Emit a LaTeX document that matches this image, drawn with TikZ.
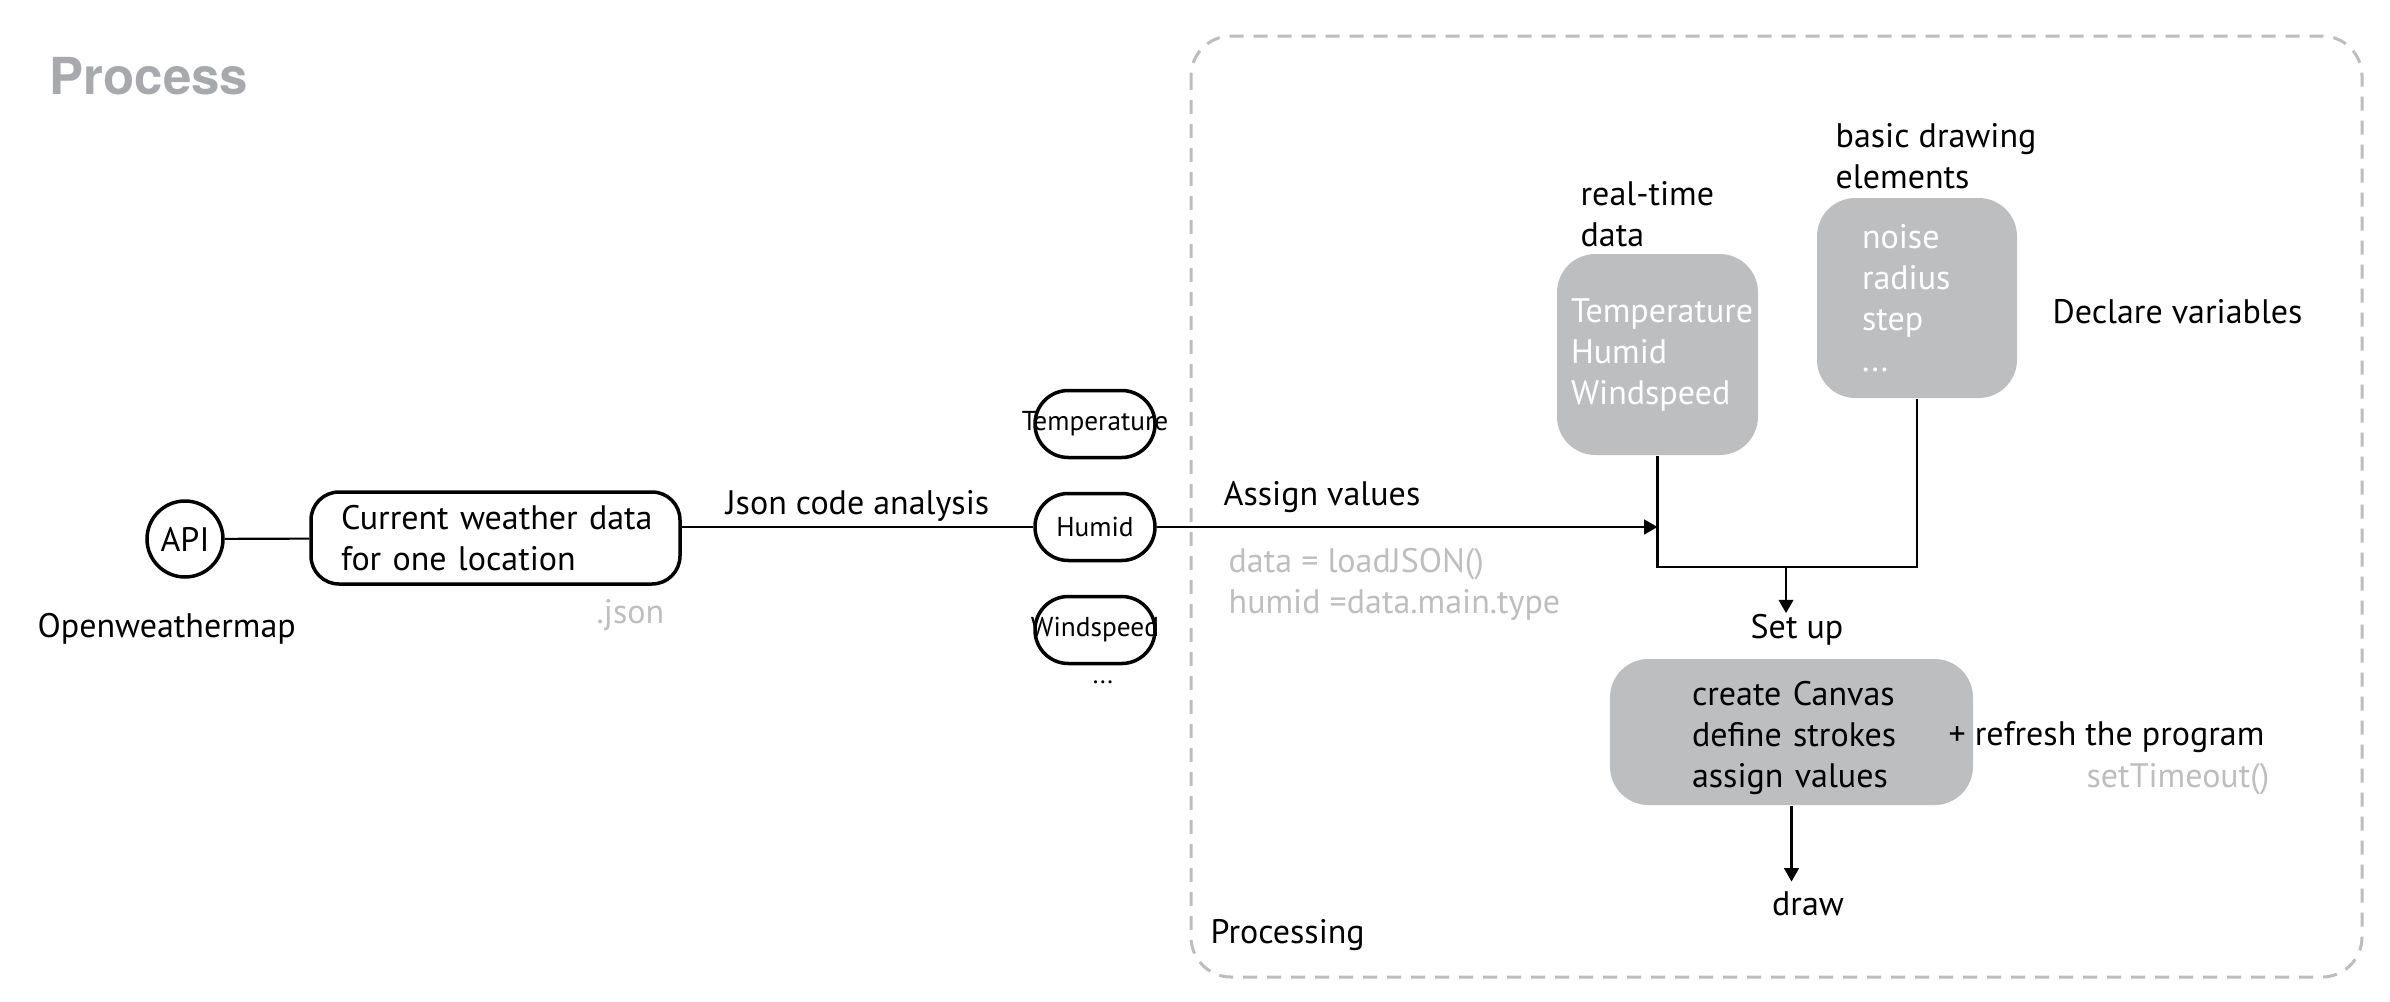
\documentclass[tikz,border=0pt]{standalone}
\usepackage{fontspec}
\setmainfont{PT Sans}
\newfontfamily\titlefont{TeX Gyre Heros}
\usetikzlibrary{arrows.meta}
\definecolor{boxgray}{HTML}{BCBEC0}
\definecolor{txtgray}{HTML}{BCBEC0}
\definecolor{titlegray}{HTML}{A7A9AC}
\definecolor{dashgray}{HTML}{BDBDBD}
\begin{document}
\begin{tikzpicture}[x=0.3pt,y=-0.3pt,
  every node/.style={inner sep=0pt, font=\fontsize{10.2pt}{12.3pt}\selectfont},
  lbl/.style={anchor=base west, align=left},
  conn/.style={line width=0.65pt},
  arr/.style={conn,-{Triangle[length=4pt,width=4.4pt]}},
  outl/.style={draw, line width=1.05pt},
  pill/.style={outl, rounded corners=10pt, minimum width=36pt, minimum height=20.1pt, font=\fontsize{8.2pt}{9pt}\selectfont},
  graybox/.style={fill=boxgray, rounded corners=11.5pt, align=left},
  codetxt/.style={lbl, text=txtgray}
]
\useasboundingbox (0,0) rectangle (2390,1002);
\node[lbl, font=\titlefont\bfseries\fontsize{15.3pt}{18pt}\selectfont, text=titlegray] (title) at (49,94) {Process};
\draw[dashgray, line width=0.9pt, dash pattern=on 4.2pt off 3pt, rounded corners=12pt] (1191,36) rectangle (2362,977);

\node[outl, circle, minimum size=22.8pt] (api) at (185,539) {API};
\node[outl, rounded corners=8.4pt, minimum width=110.7pt, minimum height=27.6pt, text width=92.7pt, inner xsep=9pt, align=left] (cw) at (495.5,538) {\mbox{Current weather data}\\\mbox{for one location}};
\node[lbl] (owm) at (37,637) {Openweathermap};
\node[lbl, text=txtgray] (json) at (596,623) {.json};

\node[pill] (temp) at (1095,424) {\makebox[0pt]{Temperature}};
\node[pill] (hum) at (1095,527) {\makebox[0pt]{Humid}};
\node[pill] (wind) at (1095,630) {\makebox[0pt]{Windspeed}};
\node[font=\fontsize{7.8pt}{9pt}\selectfont] (dots) at (1103,682) {...};

\draw[conn] (api) -- (cw);
\draw[conn] (cw.east |- hum.west) -- (hum.west) node[midway, above=1.2pt] (jca) {Json code analysis};

\node[graybox, minimum width=60.3pt, minimum height=60.3pt, text width=51.9pt, inner xsep=4.2pt, text=white] (rt) at (1657.5,354.5) {\mbox{Temperature}\\\mbox{Humid}\\\mbox{Windspeed}};
\node[lbl] (rtl) at (1580,246) {real-time\\data};
\node[graybox, minimum width=60pt, minimum height=60pt, text width=33pt, inner xsep=13.5pt, text=white] (bs) at (1917,298) {\mbox{noise}\\\mbox{radius}\\\mbox{step}\\\mbox{...}};
\node[lbl] (bsl) at (1835,188) {basic drawing\\elements};
\node[lbl] (decl) at (2052,323) {Declare variables};

\coordinate (j1) at (rt.south |- hum.east);
\draw[arr] (hum.east) -- (j1);
\node[lbl] (assign) at (1223,505) {Assign values};
\node[codetxt] (code) at (1228,613) {data = loadJSON()\\humid =data.main.type};

\coordinate (j2) at (1786,567);
\draw[conn] (rt.south) -- (rt.south |- j2) -- (bs.south |- j2) -- (bs.south);
\node[anchor=base] (setup) at (1797,638) {Set up};
\draw[arr] (j2) -- (j2 |- setup.north);

\node[graybox, minimum width=108.9pt, minimum height=43.8pt, text width=59.7pt, inner xsep=24.6pt] (su) at (1791.5,732) {\mbox{\rule{0pt}{10.6pt}create Canvas}\\\mbox{define strokes}\\\mbox{assign values}};
\node[lbl] (refresh) at (1948,745) {+ refresh the program};
\node[anchor=base east, text=txtgray] (st) at (2270,787) {setTimeout()};
\node[anchor=base] (drw) at (1808,915) {draw};
\draw[arr, shorten >=2.7pt] (su.south) -- (su.south |- drw.north);
\node[lbl] (proc) at (1210,943) {Processing};
\end{tikzpicture}
\end{document}
